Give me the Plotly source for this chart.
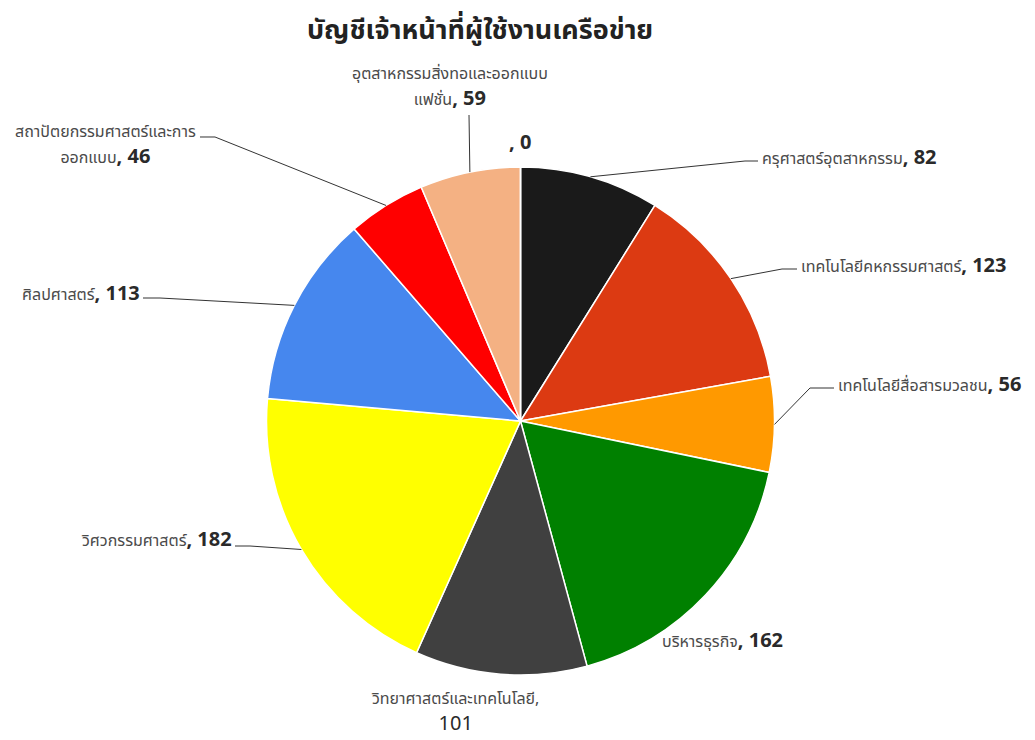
import math
import plotly.graph_objects as go

# ---- data ----
labels = ["ครุศาสตร์อุตสาหกรรม", "เทคโนโลยีคหกรรมศาสตร์", "เทคโนโลยีสื่อสารมวลชน",
          "บริหารธุรกิจ", "วิทยาศาสตร์และเทคโนโลยี", "วิศวกรรมศาสตร์", "ศิลปศาสตร์",
          "สถาปัตยกรรมศาสตร์และการออกแบบ", "อุตสาหกรรมสิ่งทอและออกแบบแฟชั่น", ""]
values = [82, 123, 56, 162, 101, 182, 113, 46, 59, 0]
colors = ["#1a1a1a", "#dc3a12", "#ff9900", "#008000", "#404040",
          "#ffff00", "#4687ee", "#ff0000", "#f4b183", "#999999"]
title = "บัญชีเจ้าหน้าที่ผู้ใช้งานเครือข่าย"

# ---- layout / style ----
W, H = 1035, 740
OFF = 8  # page body margin
CX, CY, R = 520.5, 421.0, 254.0
FONT = "Tahoma, 'Noto Sans Thai', 'Noto Sans', sans-serif"

label_text = [
    "ครุศาสตร์อุตสาหกรรม",
    "เทคโนโลยีคหกรรมศาสตร์",
    "เทคโนโลยีสื่อสารมวลชน",
    "บริหารธุรกิจ",
    "วิทยาศาสตร์และเทคโนโลยี,<br>",
    "วิศวกรรมศาสตร์",
    "ศิลปศาสตร์",
    "สถาปัตยกรรมศาสตร์และการ<br>ออกแบบ",
    "อุตสาหกรรมสิ่งทอและออกแบบ<br>แฟชั่น",
    "",
]
label_place = [
    dict(x=760, y=158, xanchor="left", align="left", line=[(745, 161), (758, 161)]),
    dict(x=799, y=266, xanchor="left", align="left", line=[(782, 269), (797, 269)]),
    dict(x=836, y=385, xanchor="left", align="left", line=[(810, 388), (834, 388)]),
    dict(x=660, y=641, xanchor="left", align="left", line=None),
    dict(x=455, y=713, xanchor="center", align="center", line=None),
    dict(x=234, y=540, xanchor="right", align="right", line=[(250, 546), (235, 546)]),
    dict(x=142, y=294, xanchor="right", align="right", line=[(160, 298), (143, 298)]),
    dict(x=105, y=146, xanchor="center", align="center", line=[(215, 137), (200, 137)]),
    dict(x=450, y=88, xanchor="center", align="center", line=[(469, 115)]),
    dict(x=520, y=143, xanchor="center", align="center", line=None),
]


def px(x):
    return (x - OFF) / W


def py(y):
    return 1 - (y - OFF) / H


fig = go.Figure(go.Pie(
    labels=[l if l else " " for l in labels],
    values=values,
    sort=False,
    direction="clockwise",
    rotation=0,
    marker=dict(colors=colors, line=dict(color="white", width=1.5)),
    textinfo="none",
    hoverinfo="label+value",
    showlegend=False,
    domain=dict(x=[px(CX - R), px(CX + R)], y=[py(CY + R), py(CY - R)]),
))

total = sum(values)
cum = 0
shapes = []
annotations = []
for i, v in enumerate(values):
    mid = (cum + v / 2) / total * 2 * math.pi
    cum += v
    ex = CX + R * math.sin(mid)
    ey = CY - R * math.cos(mid)
    p = label_place[i]
    thai = "<span style='font-size:16px;color:#4a4a4a'>" + label_text[i] + "</span>"
    if i == 4:
        text = thai + "<span style='color:#2a2a2a'>%d</span>" % v
    else:
        text = thai + "<span style='color:#2a2a2a'><b>, %d</b></span>" % v
    annotations.append(dict(
        x=px(p["x"]), y=py(p["y"]), xref="paper", yref="paper",
        text=text, showarrow=False, xanchor=p["xanchor"], yanchor="middle",
        align=p["align"], font=dict(family=FONT, size=20, color="#2a2a2a"),
    ))
    if p["line"]:
        pts = [(ex, ey)] + p["line"]
        path = "M " + " L ".join("%f,%f" % (px(a), py(b)) for a, b in pts)
        shapes.append(dict(type="path", path=path, xref="paper", yref="paper",
                           line=dict(color="#333333", width=1)))

annotations.append(dict(
    x=px(480), y=py(30), xref="paper", yref="paper", showarrow=False,
    text="<b>" + title + "</b>", xanchor="center", yanchor="middle",
    font=dict(family=FONT, size=27, color="#222"),
))

fig.update_layout(
    width=W, height=H,
    margin=dict(l=0, r=0, t=0, b=0),
    paper_bgcolor="white", plot_bgcolor="white",
    annotations=annotations, shapes=shapes,
    font=dict(family=FONT),
)

fig.write_html("out.html")
